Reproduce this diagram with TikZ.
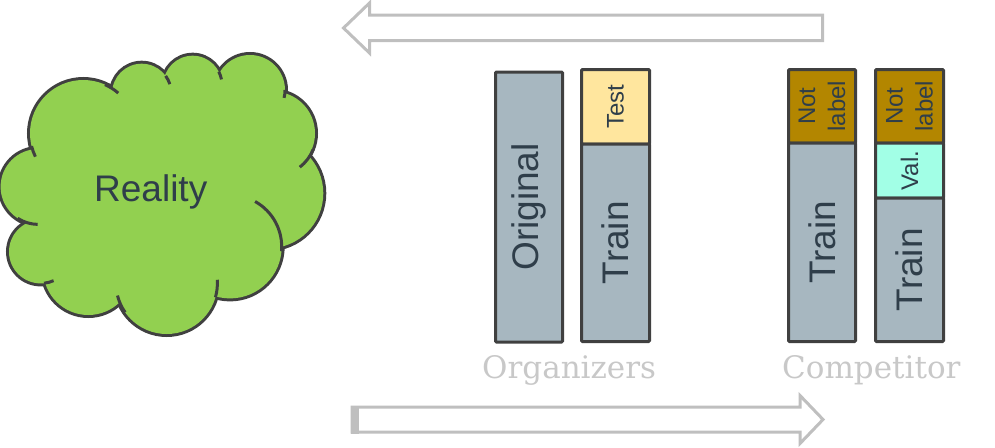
\documentclass[tikz,border=0pt]{standalone}
\usepackage{fontspec}
\usetikzlibrary{calc}
\newfontfamily\arialf{Liberation Sans}
\newfontfamily\serifl{DejaVu Serif}
\definecolor{bord}{HTML}{404040}
\definecolor{barfill}{HTML}{A7B7C0}
\definecolor{testfill}{HTML}{FFE69E}
\definecolor{nlfill}{HTML}{B38600}
\definecolor{valfill}{HTML}{A2FFE6}
\definecolor{txt}{HTML}{2F3E4A}
\definecolor{cloudgreen}{HTML}{92D050}
\definecolor{arrowgray}{HTML}{BFBFBF}
\definecolor{labgray}{HTML}{C8C8C8}
\tikzset{
  bar/.style={draw=bord, line width=3pt, fill=barfill, rotate=90, inner sep=0pt,
    text=txt, font=\arialf\fontsize{37}{40}\selectfont, rounded corners=1pt},
  small/.style={font=\arialf\fontsize{24}{30}\selectfont, align=center},
  grouplabel/.style={text=labgray, font=\serifl\fontsize{31}{34}\selectfont, anchor=base west, inner sep=0pt},
  blockarrow/.style={draw=arrowgray, line width=3pt, line join=miter},
  cloudedge/.style={draw=bord, line width=3pt}
}
\newcommand{\puffarc}[5]{\draw[cloudedge] ($(#1,#2)+(#4:#3)$) arc[start angle=#4, end angle=#5, radius=#3];}
\begin{document}
\begin{tikzpicture}[x=1pt,y=-1pt]
\useasboundingbox (0,0) rectangle (995,447);

% ---- cloud ----
\def\puffs{38.3/186.7/37.7, 83.3/133.3/53.3, 141.7/93.3/29.6, 192.7/85/29.3,
  250/90/35, 273.3/133.3/41.7, 268.3/193.3/55, 230/246.7/51.7,
  166.7/283.3/50.7, 88.3/270/45, 40.7/251.7/31.7}
\foreach \cx/\cy/\r in \puffs { \draw[bord, line width=6pt] (\cx,\cy) circle[radius=\r]; }
\foreach \cx/\cy/\r in \puffs { \fill[cloudgreen] (\cx,\cy) circle[radius=\r]; }
\fill[cloudgreen] (38.3,186.7) -- (83.3,133.3) -- (141.7,93.3) -- (192.7,85) -- (250,90)
  -- (273.3,133.3) -- (268.3,193.3) -- (230,246.7) -- (166.7,283.3) -- (88.3,270)
  -- (40.7,251.7) -- cycle;
% interior arcs
\puffarc{230}{246.7}{51.7}{-61}{5}
\puffarc{273.3}{133.3}{43}{22}{52}
\puffarc{250}{90}{35}{0}{13}
\puffarc{192.7}{85}{29.3}{-27}{-11}
\puffarc{141.7}{93.3}{29.6}{-36}{-18}
\puffarc{83.3}{133.3}{53.3}{-66}{-49}
\puffarc{83.3}{133.3}{53.3}{154}{166}
\puffarc{38.3}{186.7}{37.7}{91}{123}
\puffarc{40.7}{251.7}{31.7}{66}{84}
\puffarc{166.7}{283.3}{50.7}{145}{166}
\puffarc{166.7}{283.3}{50.7}{-4}{16}
\node[text=txt, font=\arialf\fontsize{37}{40}\selectfont, anchor=base west, inner sep=0pt]
  (reality) at (94,201.5) {Reality};

% ---- organizers ----
\node[bar, minimum width=270pt, minimum height=67pt] (orig) at (529,207) {Original};
\node[bar, fill=testfill, small, minimum width=74.5pt, minimum height=68pt] (test) at (615.5,106.75) {Test};
\node[bar, minimum width=197.5pt, minimum height=68pt] (otrain) at (615.5,242.75) {Train};

% ---- competitor ----
\node[bar, fill=nlfill, small, minimum width=73.5pt, minimum height=67pt] (nl1) at (822,106.25) {Not\\label};
\node[bar, minimum width=198.5pt, minimum height=67pt] (ctrain1) at (822,242.25) {Train};
\node[bar, fill=nlfill, small, minimum width=73.5pt, minimum height=68pt] (nl2) at (909.5,106.25) {Not\\label};
\node[bar, fill=valfill, small, minimum width=55pt, minimum height=68pt] (val) at (909.5,170.5) {Val.};
\node[bar, minimum width=143.5pt, minimum height=68pt] (ctrain2) at (909.5,269.75) {Train};

\node[grouplabel] (orgs) at (482,378) {Organizers};
\node[grouplabel] (comp) at (782,378) {Competitor};

% ---- block arrows ----
\draw[blockarrow] (822.5,15) -- (369.5,15) -- (369.5,3) -- (343.5,28) -- (369.5,53)
  -- (369.5,40.5) -- (822.5,40.5) -- cycle;
\draw[blockarrow] (352,407) -- (800,407) -- (800,395.5) -- (823,419.5) -- (800,443.5)
  -- (800,432) -- (352,432) -- cycle;
\fill[arrowgray] (350.5,405.5) rectangle (359,433.5);
\end{tikzpicture}
\end{document}
